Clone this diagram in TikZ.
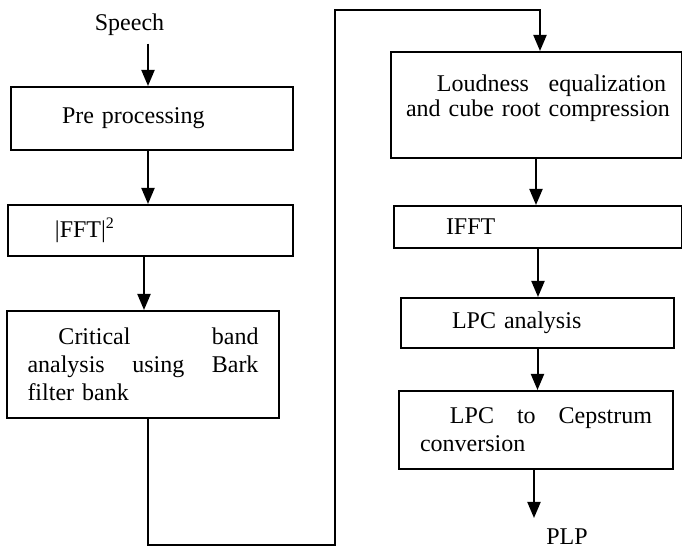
\documentclass[tikz,border=0pt]{standalone}
\usepackage{fontspec}
\setmainfont{Liberation Serif}
\usetikzlibrary{arrows.meta}
\begin{document}
\begin{tikzpicture}[x=0.5pt, y=-0.5pt, line width=1pt, font=\fontsize{12}{14}\selectfont]
			\tikzset{
				block/.style={draw, rectangle, inner xsep=4pt, inner ysep=2pt, align=left},
				arr/.style={-{Triangle[length=8pt,width=6.5pt]}},
			}
			\useasboundingbox (0,0) rectangle (682,549);
			
			%left column
			\node (speech) at (129.5,25){Speech};
			\node[block, minimum width=141pt, minimum height=31.5pt, text width=133pt] (pre) at (152,118.5){\hspace*{21.5pt}Pre processing};
			\node[block, minimum width=142.5pt, minimum height=25.5pt, text width=134.5pt] (fft) at (150.5,230.5){\hspace*{19.5pt}|FFT|\textsuperscript{2}};
			\node[block, minimum width=136pt, minimum height=53.5pt, text width=115.5pt] (crit) at (143,364.5){\hspace*{15.5pt}Critical\hfill band\\analysis\hfill using\hfill Bark\\filter bank};
			
			%right column
			\node[block, font=\fontsize{12}{12.5}\selectfont, minimum width=145.5pt, minimum height=53pt, text width=130pt] (loud) at (536,105){\hspace*{15.5pt}Loudness\hfill equalization\\\mbox{and cube root compression}\rule[-9pt]{0pt}{9pt}};
			\node[block, minimum width=144pt, minimum height=21pt, text width=136pt] (ifft) at (538,227){\hspace*{22pt}IFFT};
			\node[block, minimum width=136.5pt, minimum height=25pt, text width=128.5pt] (lpc) at (537.5,323){\hspace*{21.5pt}LPC analysis};
			\node[block, minimum width=137pt, minimum height=39pt, text width=116pt] (cep) at (536,430){\hspace*{15pt}LPC\hfill to\hfill Cepstrum\\conversion};
			\node[inner sep=1pt] (plp) at (567,537){PLP};
			
			%connectors
			\draw[arr] ([xshift=-2pt]pre.north |- speech.south) -- ([xshift=-2pt]pre.north);
			\draw[arr] ([xshift=-2pt]pre.south) -- ([xshift=-2pt]pre.south |- fft.north);
			\draw[arr] ([xshift=0.5pt]crit.north |- fft.south) -- ([xshift=0.5pt]crit.north);
			\coordinate (low) at (148,545);
			\coordinate (high) at (335,10);
			\draw[arr] (crit.south -| low) -- (low) -- (low -| high) -- (high) -- ([xshift=2pt]high -| loud.north) -- ([xshift=2pt]loud.north);
			\draw[arr] (loud.south) -- (loud.south |- ifft.north);
			\draw[arr] (ifft.south) -- (ifft.south |- lpc.north);
			\draw[arr] (lpc.south) -- (lpc.south |- cep.north);
			\coordinate (out) at (534,518);
			\draw[arr] (cep.south -| out) -- (out);
		\end{tikzpicture}
\end{document}
